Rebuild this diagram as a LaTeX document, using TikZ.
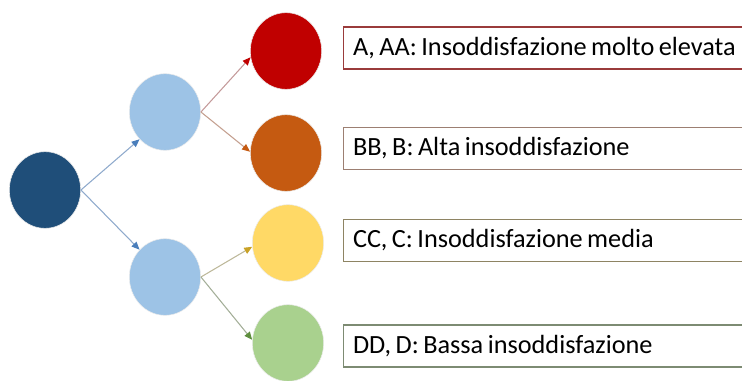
\documentclass[tikz,border=0pt]{standalone}
\usepackage{fontspec}
\setmainfont{Carlito}
\usetikzlibrary{shapes.geometric,arrows.meta}
\definecolor{rootc}{HTML}{1F4E79}
\definecolor{midc}{HTML}{9DC3E6}
\definecolor{redc}{HTML}{C00000}
\definecolor{orac}{HTML}{C55A11}
\definecolor{yelc}{HTML}{FFD966}
\definecolor{grnc}{HTML}{A9D18E}
\definecolor{blueline}{HTML}{8FAACC}
\definecolor{bluehead}{HTML}{4A7EBB}
\definecolor{redline}{HTML}{C49A9A}
\definecolor{oraline}{HTML}{C4A090}
\definecolor{yelline}{HTML}{BDB89A}
\definecolor{yelhead}{HTML}{C9A227}
\definecolor{grnline}{HTML}{A3AE98}
\definecolor{grnhead}{HTML}{5E8E3E}
\definecolor{b1}{HTML}{9A3B3B}
\definecolor{b2}{HTML}{9C7F72}
\definecolor{b3}{HTML}{8E8463}
\definecolor{b4}{HTML}{7D8B73}
\newcommand\myLabFont{\fontsize{19.7}{23}\selectfont\frenchspacing}
\newcommand\myTightSpace{\spaceskip=0.17em\relax}
\tikzset{
  circ/.style={ellipse, inner sep=0pt, minimum width=53.5pt, minimum height=57.5pt, draw=white!85!gray, line width=0.4pt},
  lab/.style={rectangle, anchor=west, line width=1pt, minimum height=31.5pt, text width=292pt, inner xsep=7pt, align=left, font=\myLabFont, execute at begin node=\myTightSpace, fill=white},
  conn/.style={line width=0.8pt, -{Triangle[length=6pt,width=5pt]}}
}
\begin{document}
\begin{tikzpicture}[x=0.75pt,y=-0.75pt]
\useasboundingbox (0,0) rectangle (742,381);
\clip (0,0) rectangle (742,381);
\node[circ, fill=rootc] (root) at (45,190) {};
\node[circ, fill=midc] (mu) at (165,112) {};
\node[circ, fill=midc] (ml) at (165,277) {};
\node[circ, fill=redc] (r) at (286,51) {};
\node[circ, fill=orac] (o) at (286,153) {};
\node[circ, fill=yelc] (y) at (288,243) {};
\node[circ, fill=grnc] (g) at (288,343) {};
\draw[conn, draw=blueline, -{Triangle[length=6pt,width=5pt,color=bluehead]}] (root.east) -- (mu.227);
\draw[conn, draw=blueline, -{Triangle[length=6pt,width=5pt,color=bluehead]}] (root.east) -- (ml.133);
\draw[conn, draw=redline, -{Triangle[length=6pt,width=5pt,color=redc]}] (mu.east) -- (r.190);
\draw[conn, draw=oraline, -{Triangle[length=6pt,width=5pt,color=orac]}] (mu.east) -- (o.178);
\draw[conn, draw=yelline, -{Triangle[length=6pt,width=5pt,color=yelhead]}] (ml.east) -- (y.186);
\draw[conn, draw=grnline, -{Triangle[length=6pt,width=5pt,color=grnhead]}] (ml.east) -- (g.175);
\node[lab, draw=b1] (t1) at (343,48) {A, AA: Insoddisfazione molto elevata};
\node[lab, draw=b2] (t2) at (343,148.5) {BB, B: Alta insoddisfazione};
\node[lab, draw=b3] (t3) at (343,240.5) {CC, C: Insoddisfazione media};
\node[lab, draw=b4] (t4) at (343,346) {DD, D: Bassa insoddisfazione};
\end{tikzpicture}
\end{document}
